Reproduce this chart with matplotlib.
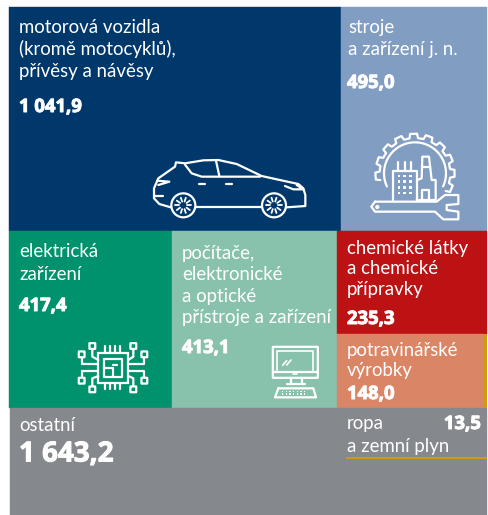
import numpy as np
import matplotlib.pyplot as plt
import matplotlib.patheffects as pe
from matplotlib.patches import Rectangle, Circle, FancyBboxPatch

labels = ['motorová vozidla\n(kromě motocyklů),\npřívěsy a návěsy', 'stroje\na zařízení j. n.',
          'elektrická\nzařízení', 'počítače,\nelektronické\na optické\npřístroje a zařízení',
          'chemické látky\na chemické\npřípravky', 'potravinářské\nvýrobky',
          'ostatní', 'ropa\na zemní plyn']
values = ['1 041,9', '495,0', '417,4', '413,1', '235,3', '148,0', '1 643,2', '13,5']
colors = ['#00386c', '#829dc2', '#00926c', '#89c2ac', '#bd1214', '#db8567', '#85888c', '#85888c']

# tile edges in pixels: left, top, right, bottom
tiles = [(9, 7, 341, 231), (341, 7, 487, 231), (9, 231, 172, 408), (172, 231, 337, 408),
         (337, 231, 487, 334), (337, 334, 484, 408), (10, 408, 487, 515)]
# first baseline of each label, then the line step
label_pos = [(19, 33), (348, 33), (19, 257), (182, 259), (347, 254), (347, 356), (19, 431), (347, 429)]
line_step = [22, 21.5, 23, 21.5, 20.5, 20, 20, 23]
value_pos = [(19, 107), (347, 83), (19, 306), (182, 348), (347, 319), (347, 394), (19, 454), (481, 424)]
value_size = [13.3, 13.3, 13.3, 13.3, 13.3, 13.3, 20, 13.3]

GOLD = '#cf9a13'
WHITE = '#ffffff'
LW = 1.6

fig = plt.figure(figsize=(4.88, 5.15), dpi=100)
ax = fig.add_axes([0, 0, 1, 1])
ax.set_xlim(0, 488)
ax.set_ylim(515, 0)
ax.axis('off')


def line(pts, ox, oy, lw=LW, closed=False):
    pts = np.array(pts, dtype=float) / 3
    if closed:
        pts = np.vstack([pts, pts[0]])
    ax.plot(pts[:, 0] + ox, pts[:, 1] + oy, color=WHITE, lw=lw, solid_capstyle='round',
            solid_joinstyle='round', zorder=3)


def ring(x, y, r, ox, oy, lw=LW, fc='none'):
    ax.add_patch(Circle((x / 3 + ox, y / 3 + oy), r / 3, fc=fc, ec=WHITE, lw=lw, zorder=3))


def draw_car(ox, oy):
    line([(122, 232), (88, 222), (72, 205), (72, 175), (85, 145), (135, 110), (138, 97), (165, 100),
          (220, 91), (265, 90), (320, 102), (395, 138), (440, 148), (505, 162), (520, 175),
          (526, 195), (526, 228), (470, 232)], ox, oy)
    line([(395, 232), (198, 232)], ox, oy)
    line([(165, 104), (185, 130), (215, 140), (390, 140)], ox, oy)
    line([(258, 92), (268, 138)], ox, oy)
    line([(207, 161), (225, 161)], ox, oy)
    line([(287, 161), (305, 161)], ox, oy)
    line([(465, 168), (490, 178), (520, 178), (500, 165)], ox, oy)
    line([(82, 152), (118, 155), (85, 165)], ox, oy)
    line([(72, 197), (98, 197)], ox, oy)
    for cx in (160, 432):
        ring(cx, 226, 36, ox, oy, fc=colors[0])
        for a in np.arange(0, 360, 36):
            c, s = np.cos(np.radians(a)), np.sin(np.radians(a))
            line([(cx + 12 * c, 226 + 12 * s), (cx + 24 * c, 226 + 24 * s)], ox, oy, lw=1.3)


def draw_gear(ox, oy):
    # teeth around the ring, open at the bottom where the wrench sits
    pts = []
    for a in np.arange(-23, 205, 23):
        for da, r in ((-7, 106), (-5, 119), (5, 119), (7, 106)):
            t = np.radians(a + da)
            pts.append((855 + r * np.cos(t), 130 - r * np.sin(t)))
    line(pts, ox, oy)
    t = np.radians(np.linspace(-25, 205, 60))
    line(np.column_stack([855 + 93 * np.cos(t), 130 - 93 * np.sin(t)]), ox, oy)
    line([(788, 210), (788, 122), (860, 122), (860, 210)], ox, oy)
    for x in (805, 825, 843):
        line([(x, 96), (x, 122)], ox, oy)
    line([(862, 150), (875, 145), (877, 80), (897, 80), (905, 150), (917, 150), (917, 210), (860, 210)], ox, oy)
    line([(875, 210), (875, 180), (897, 180), (897, 210)], ox, oy)
    line([(875, 110), (900, 110)], ox, oy)
    for x in (807, 824, 841):
        for y in (138, 155, 172, 189):
            ax.add_patch(Rectangle((x / 3 + ox - 1.2, y / 3 + oy - 1.2), 2.4, 2.4, fc=WHITE, ec='none', zorder=3))
    line([(735, 215), (920, 215), (945, 195), (985, 195), (985, 222), (950, 225), (950, 240),
          (985, 245), (985, 268), (940, 268), (915, 245), (735, 245), (724, 230)], ox, oy, closed=True)
    ring(742, 231, 3, ox, oy, fc=WHITE)


def draw_chip(ox, oy):
    ax.add_patch(Rectangle((115 / 3 + ox, 70 / 3 + oy), 30, 30, fc='none', ec=WHITE, lw=LW, zorder=3))
    line([(133, 88), (187, 88), (187, 142), (133, 142)], ox, oy, closed=True)
    line([(133, 115), (160, 115), (160, 142)], ox, oy)
    line([(160, 105), (172, 105)], ox, oy)
    for p in (135, 150, 165, 180):
        line([(p, 48), (p, 70)], ox, oy)
        line([(p, 160), (p, 178)], ox, oy)
    nodes = [(97, 48), (220, 48), (65, 73), (253, 73), (65, 152), (253, 152), (97, 178), (220, 178)]
    for x, y in nodes:
        ax.add_patch(FancyBboxPatch((x / 3 + ox - 2.5, y / 3 + oy - 2.5), 5, 5, boxstyle='round,pad=0.4',
                                    fc='none', ec=WHITE, lw=LW, zorder=3))
    line([(97, 58), (97, 80), (115, 90)], ox, oy)
    line([(220, 58), (220, 80), (205, 90)], ox, oy)
    line([(65, 83), (65, 103), (115, 103)], ox, oy)
    line([(253, 83), (253, 103), (205, 103)], ox, oy)
    line([(65, 142), (65, 122), (115, 122)], ox, oy)
    line([(253, 142), (253, 122), (205, 122)], ox, oy)
    line([(97, 168), (97, 145), (115, 138)], ox, oy)
    line([(220, 168), (220, 145), (205, 138)], ox, oy)


def draw_monitor(ox, oy):
    ax.add_patch(FancyBboxPatch((640 / 3 + ox, 52 / 3 + oy), 44, 30, boxstyle='round,pad=0.5',
                                fc='none', ec=WHITE, lw=LW, zorder=3))
    line([(650, 125), (650, 62), (760, 62), (760, 125)], ox, oy, lw=1.2)
    line([(638, 125), (773, 125)], ox, oy)
    line([(698, 133), (712, 133)], ox, oy, lw=1.2)
    line([(692, 145), (692, 161)], ox, oy)
    line([(725, 145), (725, 161)], ox, oy)
    line([(680, 162), (735, 162)], ox, oy)
    line([(655, 175), (760, 175), (768, 202), (645, 202)], ox, oy, closed=True)
    line([(668, 106), (680, 92)], ox, oy, lw=1.2)
    line([(680, 105), (693, 90)], ox, oy, lw=1.2)
    for y in (184, 192):
        for x in np.arange(668, 745, 11):
            ax.add_patch(Rectangle((x / 3 + ox - 0.8, y / 3 + oy - 0.8), 1.6, 1.6, fc=WHITE, ec='none', zorder=3))


for (x0, y0, x1, y1), c in zip(tiles, colors):
    ax.add_patch(Rectangle((x0, y0), x1 - x0, y1 - y0, fc=c, ec=c, lw=0.3, zorder=1))

# gold strips for the small oil and gas tile
ax.add_patch(Rectangle((484, 334), 3, 74, fc=GOLD, ec='none', zorder=2))
ax.add_patch(Rectangle((346, 457), 141, 2.2, fc=GOLD, ec='none', zorder=2))

for lab, (x, y), step in zip(labels, label_pos, line_step):
    for i, part in enumerate(lab.split('\n')):
        ax.text(x, y + i * step, part, color=WHITE, fontsize=13.4, family='Lato',
                va='baseline', ha='left', zorder=4)

for i, (val, (x, y), size) in enumerate(zip(values, value_pos, value_size)):
    ax.text(x, y, val, color=WHITE, fontsize=size, family='Open Sans', weight='bold',
            va='center', ha='right' if i == 7 else 'left', zorder=4,
            path_effects=[pe.withStroke(linewidth=0.7, foreground=WHITE)])

draw_car(130, 130)
draw_gear(130, 130)
draw_chip(60, 330)
draw_monitor(60, 330)

fig.savefig('out.png', dpi=100, facecolor='white')
